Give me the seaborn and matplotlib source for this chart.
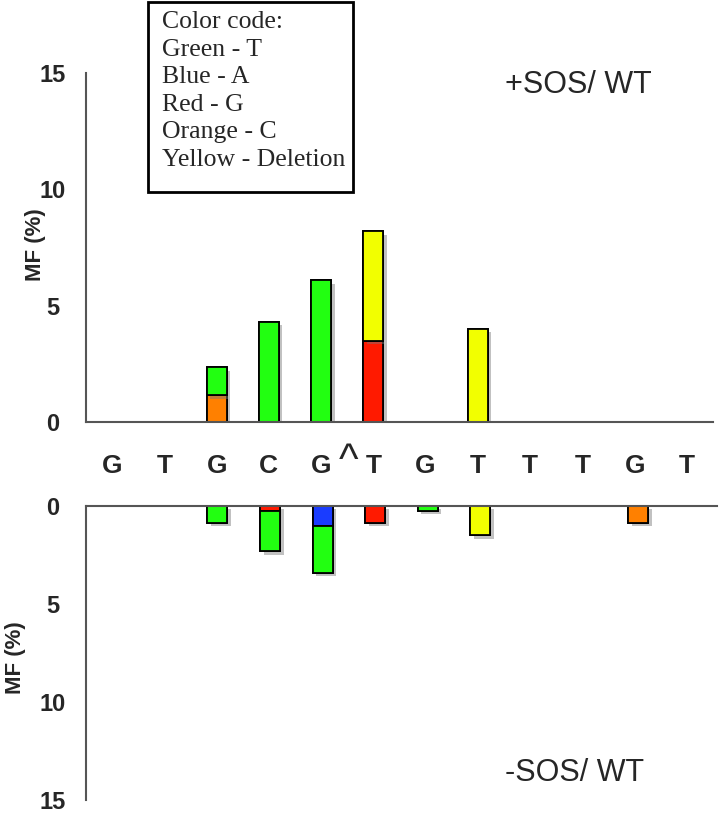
import matplotlib
matplotlib.use("Agg")
import matplotlib.pyplot as plt
import matplotlib.patheffects as pe
from matplotlib.patches import Rectangle
import seaborn as sns
import numpy as np

# --- datos ---
bases = ['G', 'T', 'G', 'C', 'G', 'T', 'G', 'T', 'T', 'T', 'G', 'T']
positions = list(range(len(bases)))

# orden de apilado (de abajo hacia arriba)
mut_names = ['C', 'G', 'A', 'T', 'Deletion']
mut_colors = ['#ff8000', '#ff1a00', '#1a3cff', '#22ff11', '#f2ff00']

# +SOS / WT  -> MF (%)
plus_C = [0, 0, 1.15, 0, 0, 0, 0, 0, 0, 0, 0, 0]
plus_G = [0, 0, 0, 0, 0, 3.5, 0, 0, 0, 0, 0, 0]
plus_A = [0, 0, 0, 0, 0, 0, 0, 0, 0, 0, 0, 0]
plus_T = [0, 0, 1.2, 4.3, 6.1, 0, 0, 0, 0, 0, 0, 0]
plus_Del = [0, 0, 0, 0, 0, 4.7, 0, 4.0, 0, 0, 0, 0]

# -SOS / WT  -> MF (%)
minus_C = [0, 0, 0, 0, 0, 0, 0, 0, 0, 0, 0.85, 0]
minus_G = [0, 0, 0, 0.25, 0, 0.85, 0, 0, 0, 0, 0, 0]
minus_A = [0, 0, 0, 0, 1.0, 0, 0, 0, 0, 0, 0, 0]
minus_T = [0, 0, 0.85, 2.05, 2.4, 0, 0.25, 0, 0, 0, 0, 0]
minus_Del = [0, 0, 0, 0, 0, 0, 0, 1.5, 0, 0, 0, 0]

legend_text = "Color code:\nGreen - T\nBlue - A\nRed - G\nOrange - C\nYellow - Deletion"

# --- estilo ---
sns.set_style("white")
plt.rcParams['font.family'] = ['Liberation Sans', 'DejaVu Sans']

W, H = 720, 815
fig = plt.figure(figsize=(7.2, 8.15), dpi=100)
ax_top = fig.add_axes([86 / W, 1 - 422 / H, (713 - 86) / W, (422 - 73) / H])
ax_bot = fig.add_axes([86 / W, 1 - 800 / H, (717 - 86) / W, (800 - 506) / H])

shadow = [pe.withSimplePatchShadow(offset=(2.5, -2.5), shadow_rgbFace='#777777', alpha=0.45), pe.Normal()]


def stacked(ax, layers):
    bottom = np.zeros(len(bases))
    for vals, col in zip(layers, mut_colors):
        vals = np.asarray(vals, dtype=float)
        n0 = len(ax.patches)
        sns.barplot(x=positions, y=vals, bottom=bottom, color=col, saturation=1,
                    width=0.38, edgecolor='black', linewidth=1.3, errorbar=None, ax=ax)
        for p, v in zip(ax.patches[n0:], vals):
            if v == 0:
                p.set_visible(False)
            else:
                p.set_path_effects(shadow)
        bottom += vals


stacked(ax_top, [plus_C, plus_G, plus_A, plus_T, plus_Del])
stacked(ax_bot, [minus_C, minus_G, minus_A, minus_T, minus_Del])

for ax in (ax_top, ax_bot):
    ax.set_xlim(-0.5, len(bases) - 0.5)
    ax.set_yticks([0, 5, 10, 15])
    ax.set_yticklabels(['0', '5', '10', '15'], fontsize=17, fontweight='bold')
    for lbl in ax.get_yticklabels():
        lbl.set_horizontalalignment('center')
    ax.tick_params(axis='y', length=0, pad=24)
    ax.set_ylabel('')
    ax.set_facecolor('none')
    for s in ax.spines.values():
        s.set_color('#555555')
        s.set_linewidth(1.5)

ax_top.set_ylim(0, 15)
ax_top.spines['top'].set_visible(False)
ax_top.spines['right'].set_visible(False)
ax_top.set_xticks(positions)
ax_top.set_xticklabels(bases, fontsize=19, fontweight='bold')
ax_top.tick_params(axis='x', length=0, pad=23)

ax_bot.set_ylim(15, 0)
ax_bot.spines['bottom'].set_visible(False)
ax_bot.spines['right'].set_visible(False)
ax_bot.set_xticks([])

# etiquetas de eje
fig.text(36 / W, 1 - 245 / H, 'MF (%)', rotation=90, ha='center', va='center',
         fontsize=16, fontweight='bold')
fig.text(16 / W, 1 - 658 / H, 'MF (%)', rotation=90, ha='center', va='center',
         fontsize=16, fontweight='bold')

# titulos de panel
fig.text(505 / W, 1 - 85 / H, '+SOS/ WT', ha='left', va='center', fontsize=22)
fig.text(505 / W, 1 - 773 / H, '-SOS/ WT', ha='left', va='center', fontsize=22)

# marca de insercion
fig.text(349 / W, 1 - 462 / H, '^', ha='center', va='center', fontsize=30)

# cuadro de codigo de colores
fig.add_artist(Rectangle((148 / W, 1 - 192 / H), (353 - 148) / W, (192 - 2) / H,
                         transform=fig.transFigure, fill=False, edgecolor='black', linewidth=2))
fig.text(162 / W, 1 - 11 / H, legend_text, ha='left', va='top', fontsize=18.5,
         family=['Liberation Serif', 'DejaVu Serif'], linespacing=1.33)

fig.savefig('out.png', dpi=100)
